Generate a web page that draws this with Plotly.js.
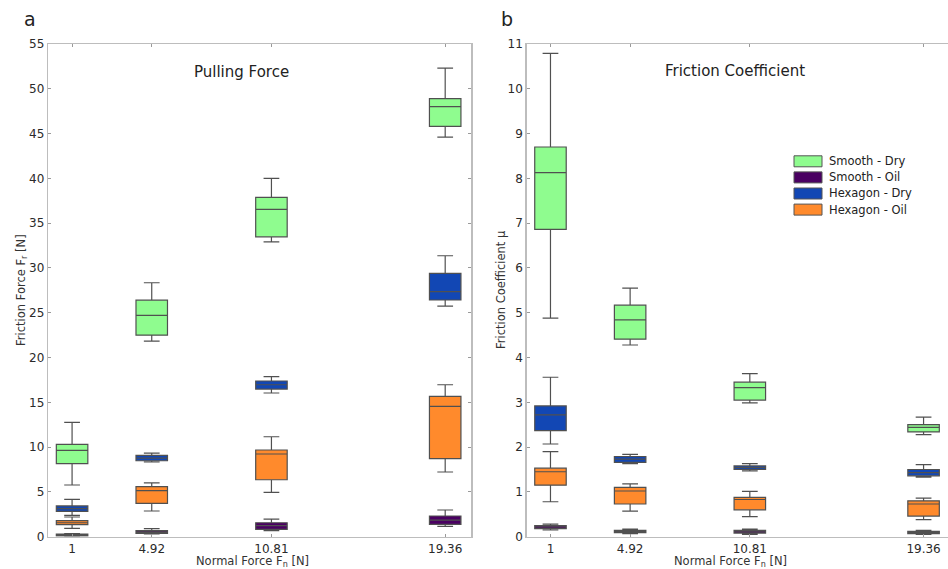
<!DOCTYPE html>
<html>
<head>
<meta charset="utf-8">
<script src="https://cdn.plot.ly/plotly-3.0.1.min.js"></script>
<style>
html,body{margin:0;padding:0;overflow:hidden;background:#fff;}
#chart{width:952px;height:569px;}
</style>
</head>
<body>
<div id="chart"></div>
<script>
// ---------- DATA ----------
var normalForce = [1, 4.92, 10.81, 19.36];
var tickLabels = ['1', '4.92', '10.81', '19.36'];
var seriesNames = ['Smooth - Dry', 'Smooth - Oil', 'Hexagon - Dry', 'Hexagon - Oil'];
var seriesColors = ['#8ffc8f', '#4a0062', '#1247b4', '#ff8a2c'];

// Panel a: Pulling force [N]  (lower whisker, q1, median, q3, upper whisker)
var forceSmoothDryLow  = [5.77, 21.84, 32.92, 44.6];
var forceSmoothDryQ1   = [8.15, 22.5, 33.48, 45.8];
var forceSmoothDryMed  = [9.64, 24.7, 36.54, 48.0];
var forceSmoothDryQ3   = [10.31, 26.4, 37.88, 48.9];
var forceSmoothDryHigh = [12.77, 28.35, 40.0, 52.3];

var forceSmoothOilLow  = [0.05, 0.3, 0.67, 1.16];
var forceSmoothOilQ1   = [0.1, 0.38, 0.82, 1.38];
var forceSmoothOilMed  = [0.18, 0.52, 1.23, 1.86];
var forceSmoothOilQ3   = [0.28, 0.67, 1.56, 2.31];
var forceSmoothOilHigh = [0.35, 0.9, 1.97, 2.98];

var forceHexDryLow  = [2.38, 8.34, 16.04, 25.75];
var forceHexDryQ1   = [2.83, 8.48, 16.48, 26.42];
var forceHexDryMed  = [3.13, 8.78, 16.96, 27.35];
var forceHexDryQ3   = [3.43, 9.08, 17.38, 29.4];
var forceHexDryHigh = [4.17, 9.34, 17.86, 31.36];

var forceHexOilLow  = [0.93, 2.87, 4.95, 7.22];
var forceHexOilQ1   = [1.34, 3.72, 6.36, 8.71];
var forceHexOilMed  = [1.56, 5.14, 9.23, 14.55];
var forceHexOilQ3   = [1.79, 5.58, 9.68, 15.67];
var forceHexOilHigh = [2.2, 6.0, 11.16, 16.96];

// Panel b: Friction coefficient
var coefSmoothDryLow  = [4.88, 4.28, 2.99, 2.28];
var coefSmoothDryQ1   = [6.86, 4.41, 3.05, 2.34];
var coefSmoothDryMed  = [8.13, 4.84, 3.33, 2.44];
var coefSmoothDryQ3   = [8.70, 5.17, 3.45, 2.50];
var coefSmoothDryHigh = [10.79, 5.55, 3.64, 2.67];

var coefSmoothOilLow  = [0.15, 0.07, 0.05, 0.05];
var coefSmoothOilQ1   = [0.18, 0.09, 0.08, 0.07];
var coefSmoothOilMed  = [0.22, 0.11, 0.11, 0.09];
var coefSmoothOilQ3   = [0.25, 0.14, 0.14, 0.12];
var coefSmoothOilHigh = [0.28, 0.17, 0.17, 0.14];

var coefHexDryLow  = [2.07, 1.63, 1.47, 1.33];
var coefHexDryQ1   = [2.37, 1.66, 1.50, 1.36];
var coefHexDryMed  = [2.72, 1.73, 1.54, 1.43];
var coefHexDryQ3   = [2.92, 1.79, 1.58, 1.50];
var coefHexDryHigh = [3.56, 1.84, 1.63, 1.61];

var coefHexOilLow  = [0.78, 0.57, 0.45, 0.38];
var coefHexOilQ1   = [1.15, 0.73, 0.60, 0.46];
var coefHexOilMed  = [1.45, 1.02, 0.83, 0.73];
var coefHexOilQ3   = [1.53, 1.10, 0.88, 0.80];
var coefHexOilHigh = [1.90, 1.18, 1.01, 0.86];

// ---------- BUILD ----------
var W = 952, H = 569;
function px(x){ return x / W; }
function py(y){ return 1 - y / H; }

var forceStats = [
  [forceSmoothDryLow, forceSmoothDryQ1, forceSmoothDryMed, forceSmoothDryQ3, forceSmoothDryHigh],
  [forceSmoothOilLow, forceSmoothOilQ1, forceSmoothOilMed, forceSmoothOilQ3, forceSmoothOilHigh],
  [forceHexDryLow, forceHexDryQ1, forceHexDryMed, forceHexDryQ3, forceHexDryHigh],
  [forceHexOilLow, forceHexOilQ1, forceHexOilMed, forceHexOilQ3, forceHexOilHigh]
];
var coefStats = [
  [coefSmoothDryLow, coefSmoothDryQ1, coefSmoothDryMed, coefSmoothDryQ3, coefSmoothDryHigh],
  [coefSmoothOilLow, coefSmoothOilQ1, coefSmoothOilMed, coefSmoothOilQ3, coefSmoothOilHigh],
  [coefHexDryLow, coefHexDryQ1, coefHexDryMed, coefHexDryQ3, coefHexDryHigh],
  [coefHexOilLow, coefHexOilQ1, coefHexOilMed, coefHexOilQ3, coefHexOilHigh]
];

var traces = [];
function addBoxes(stats, xa, ya){
  for (var i = 0; i < stats.length; i++){
    var s = stats[i];
    traces.push({
      type: 'box',
      name: seriesNames[i],
      x: normalForce,
      lowerfence: s[0], q1: s[1], median: s[2], q3: s[3], upperfence: s[4],
      xaxis: xa, yaxis: ya,
      width: 1.55,
      whiskerwidth: 0.5,
      fillcolor: seriesColors[i],
      line: {color: '#505050', width: 1.2},
      boxpoints: false,
      showlegend: false,
      hoverinfo: 'skip'
    });
  }
}
addBoxes(forceStats, 'x', 'y');
addBoxes(coefStats, 'x2', 'y2');

var tickFont = {family: 'DejaVu Sans', size: 12, color: '#2a2a2a'};
var axisCommon = {
  showline: true, linecolor: '#bdbdbd', linewidth: 1.5,
  ticks: 'inside', ticklen: 3, tickcolor: '#9a9a9a', tickwidth: 1,
  showgrid: false, zeroline: false, tickfont: tickFont
};
function ax(extra){ var o = {}; for (var k in axisCommon) o[k] = axisCommon[k]; for (var k2 in extra) o[k2] = extra[k2]; return o; }

var yDom = [py(536.7), py(44)];
var layout = {
  width: W, height: H,
  margin: {l: 0, r: 0, t: 0, b: 0},
  paper_bgcolor: '#fff', plot_bgcolor: '#fff',
  boxmode: 'overlay',
  showlegend: false,
  xaxis: ax({domain: [px(48.3), px(471)], range: [-0.17, 20.63], tickvals: normalForce, ticktext: tickLabels, mirror: 'ticks', anchor: 'y'}),
  yaxis: ax({domain: yDom, range: [0, 55], dtick: 5, tick0: 0, mirror: 'ticks', anchor: 'x'}),
  xaxis2: ax({domain: [px(526.7), px(951)], range: [-0.17, 20.71], tickvals: normalForce, ticktext: tickLabels, mirror: 'ticks', anchor: 'y2'}),
  yaxis2: ax({domain: yDom, range: [0, 11], dtick: 1, tick0: 0, mirror: 'ticks', anchor: 'x2'}),
  shapes: [],
  annotations: []
};

var titleFont = {family: 'DejaVu Sans', size: 11.5, color: '#333'};
function ann(text, x, y, font, extra){
  var a = {text: text, xref: 'paper', yref: 'paper', x: px(x), y: py(y), xanchor: 'center', yanchor: 'middle', showarrow: false, font: font};
  if (extra) for (var k in extra) a[k] = extra[k];
  layout.annotations.push(a);
}
ann('a', 30, 19, {family: 'DejaVu Sans', size: 19, color: '#222'});
ann('b', 507, 19, {family: 'DejaVu Sans', size: 19, color: '#222'});
ann('Pulling Force', 241, 72, {family: 'DejaVu Sans', size: 15, color: '#222'});
ann('Friction Coefficient', 735, 71, {family: 'DejaVu Sans', size: 15, color: '#222'});
ann('Friction Force F<sub>r</sub> [N]', 21, 290, titleFont, {textangle: -90});
ann('Friction Coefficient μ', 501, 290, titleFont, {textangle: -90});
ann('Normal Force F<sub>n</sub> [N]', 252, 561, titleFont);
ann('Normal Force F<sub>n</sub> [N]', 730, 561, titleFont);

// manual legend
var legTop = 161.3, legStep = 16.1;
for (var i = 0; i < seriesNames.length; i++){
  var cy = legTop + i * legStep;
  layout.shapes.push({type: 'rect', xref: 'paper', yref: 'paper',
    x0: px(794), x1: px(822), y0: py(cy - 5.5), y1: py(cy + 5.5),
    fillcolor: seriesColors[i], line: {color: '#555', width: 1}});
  layout.annotations.push({text: seriesNames[i], xref: 'paper', yref: 'paper',
    x: px(827), y: py(cy), xanchor: 'left', yanchor: 'middle', showarrow: false,
    font: {family: 'DejaVu Sans', size: 11.5, color: '#222'}});
}

Plotly.newPlot('chart', traces, layout, {staticPlot: true, displayModeBar: false});
</script>
</body>
</html>
